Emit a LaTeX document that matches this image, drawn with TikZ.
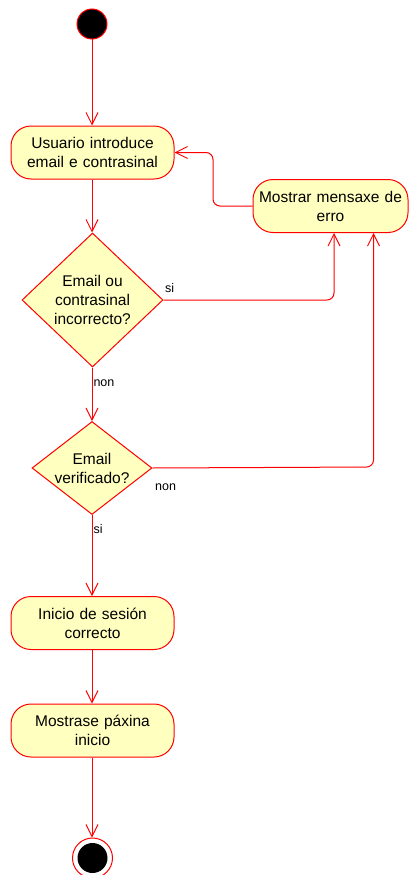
\documentclass[tikz,border=0pt]{standalone}
\usepackage{fontspec}
\setmainfont{Liberation Sans}
\usetikzlibrary{arrows.meta,shapes.geometric}
\definecolor{actfill}{HTML}{FFFFC0}
\definecolor{actline}{HTML}{FF0000}
\begin{document}
\begin{tikzpicture}[x=1pt,y=-1pt,
  font=\fontsize{15.5}{19}\selectfont,
  activity/.style={draw=actline,fill=actfill,line width=1pt,rounded corners=20pt,
    minimum width=#1,minimum height=53pt,inner sep=0pt,align=center,text width=#1-6pt},
  activity/.default=163pt,
  decision/.style={draw=actline,fill=actfill,line width=1pt,diamond,
    inner sep=0pt},
  qtext/.style={align=center,inner sep=0pt},
  flow/.style={draw=actline,line width=1pt,rounded corners=7pt,
    -{Straight Barb[length=12pt,width=12pt,line width=1pt]}},
  guard/.style={font=\fontsize{12.5}{15}\selectfont,inner sep=0pt}]
\useasboundingbox (0,0) rectangle (409,875);

% nodes
\node[circle,fill=black,draw=actline,line width=1pt,minimum size=30pt,inner sep=0pt] (start) at (92,24) {};
\node[activity] (login) at (92.5,152.5) {Usuario introduce\\email e contrasinal};
\node[activity=155pt] (err) at (330.5,206) {Mostrar mensaxe de\\erro};
\node[decision,minimum width=141pt,minimum height=134pt] (bad) at (92.5,300) {};
\node[qtext] (badtxt) at (bad.center) {Email ou\\contrasinal\\incorrecto?};
\node[decision,minimum width=120pt,minimum height=93pt] (ver) at (92,468) {};
\node[qtext] (vertxt) at (ver.center) {Email\\verificado?};
\node[activity] (ok) at (92.5,623) {Inicio de sesión\\correcto};
\node[activity] (home) at (92.5,730.5) {Mostrase páxina\\inicio};
\node[circle,draw=actline,line width=1pt,minimum size=40pt,inner sep=0pt] (stop) at (92.5,858) {};
\node[circle,fill=black,minimum size=30pt,inner sep=0pt] (stopdot) at (stop.center) {};

% flows
\draw[flow] (start) -- (login.north -| start);
\draw[flow] (login.south -| start) -- (bad.north -| start);
\draw[flow] (bad.south -| start) -- node[guard,anchor=west,pos=0.3,xshift=1pt] {non} (ver.north -| start);
\draw[flow] (ver.south -| start) -- node[guard,anchor=west,pos=0.17,xshift=1pt] {si} (ok.north -| start);
\draw[flow] (ok.south -| start) -- (home.north -| start);
\draw[flow] (home.south -| start) -- (stop.north -| start);

\coordinate (siturn) at (334,300);
\coordinate (nonturn) at (373.5,467);
\draw[flow] (bad.east) -- (siturn) -- (siturn |- err.south);
\node[guard,anchor=west] (silbl) at (165,288) {si};
\draw[flow] (ver.east) -- (nonturn) -- (nonturn |- err.south);
\node[guard,anchor=west] (nonlbl) at (155,487) {non};

\coordinate (backturn) at (213,206);
\draw[flow] (err.west) -- (backturn) -- (backturn |- login.east) -- (login.east);
\end{tikzpicture}
\end{document}
